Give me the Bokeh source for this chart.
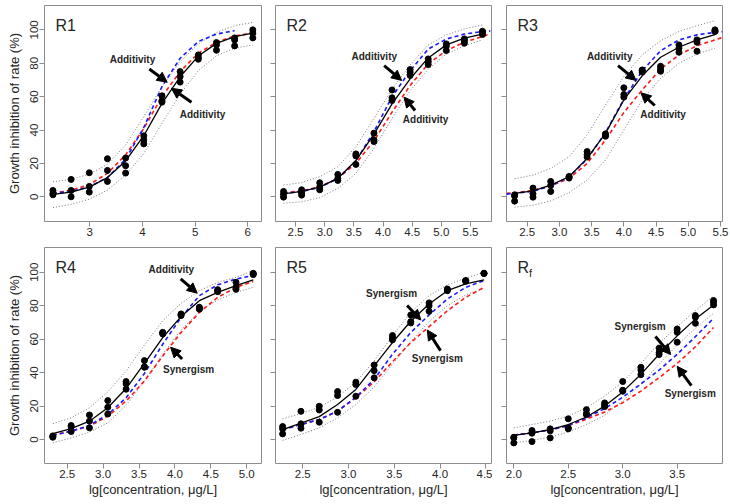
from bokeh.plotting import figure
from bokeh.layouts import column, row
from bokeh.models import (Range1d, Label, Arrow, NormalHead, FixedTicker,
                          CustomLabelingPolicy)
from bokeh.embed import file_html
from bokeh.resources import INLINE

# ---------------- data: lg concentration, observed inhibition (3 replicates),
# fitted curve, CA (red) and IA (blue) predictions, 95% bands -----------------
x1 = [2.30, 2.645, 2.99, 3.335, 3.68, 4.025, 4.37, 4.715, 5.06, 5.405, 5.75, 6.095]
obs1 = [[3.8, 2.0, 1.2], [10.4, 3.8, 0.0], [14.4, 6.2, 2.8], [22.8, 15.8, 9.2],
        [23.2, 18.6, 14.2], [36.5, 34.0, 31.7], [60.5, 57.5, 56.7], [75.0, 72.0, 68.7],
        [85.0, 83.5, 82.4], [92.4, 91.0, 87.8], [95.2, 94.0, 90.4], [100.0, 98.0, 95.2]]
fit1 = [1.4, 2.8, 5.8, 11.5, 21.5, 36.6, 56.0, 71.9, 84.3, 91.9, 96.0, 98.1]
xp1 = x1
ca1 = [2.2, 3.9, 7.3, 14.0, 25.1, 40.9, 60.0, 75.0, 86.0, 92.6, 96.3, 98.2]
ia1 = [2.0, 3.3, 6.0, 11.5, 22.5, 41.5, 66.0, 83.0, 93.0, 97.5, 99.5]
up1 = [9.0, 10.5, 13.5, 19.5, 31.0, 48.0, 66.0, 81.0, 91.5, 98.5, 102.5, 104.5]
lo1 = [-6.5, -4.5, -1.5, 4.0, 13.0, 26.0, 44.0, 61.5, 75.5, 84.5, 89.0, 91.0]

x2 = [2.295, 2.605, 2.915, 3.225, 3.535, 3.845, 4.155, 4.465, 4.775, 5.085, 5.395, 5.705]
obs2 = [[3.2, 1.5, -0.2], [4.2, 2.2, 1.0], [8.4, 5.8, 4.2], [13.4, 11.0, 9.8],
        [25.7, 24.5, 19.4], [38.1, 34.1, 33.1], [64.0, 59.3, 57.7], [76.2, 74.7, 72.7],
        [82.6, 81.0, 79.2], [91.6, 90.2, 87.6], [94.6, 93.6, 92.0], [99.2, 98.2, 97.2]]
fit2 = [1.8, 3.2, 5.8, 11.0, 21.7, 37.5, 55.7, 70.7, 83.2, 91.0, 95.0, 97.5]
xp2 = [2.295, 2.605, 2.915, 3.225, 3.535, 3.845, 4.155, 4.465, 4.775, 5.085, 5.395, 5.705, 5.84]
ca2 = [2.5, 3.5, 6.0, 11.0, 20.0, 33.5, 50.7, 66.7, 79.6, 87.6, 92.6, 96.0, 97.6]
ia2 = [2.0, 3.2, 5.6, 11.0, 21.5, 39.0, 60.0, 75.5, 88.5, 94.5, 97.5, 99.0, 99.3]
up2 = [7.0, 8.5, 12.0, 18.0, 30.0, 47.0, 64.5, 79.0, 91.0, 97.0, 100.5, 103.0]
lo2 = [-3.8, -3.0, -0.5, 5.0, 14.0, 29.0, 47.0, 63.5, 76.5, 85.5, 90.5, 94.0]

x3 = [2.305, 2.59, 2.865, 3.15, 3.43, 3.715, 4.0, 4.285, 4.57, 4.855, 5.135, 5.414]
obs3 = [[1.2, 0.5, -2.6], [5.2, 1.8, -0.2], [9.2, 6.8, 3.2], [12.2, 11.2, 11.8],
        [27.1, 25.3, 23.8], [37.7, 36.3, 37.0], [65.3, 61.3, 59.7], [76.0, 74.7, 75.5],
        [78.2, 76.6, 75.2], [91.0, 89.0, 86.6], [94.0, 92.6, 87.2], [100.0, 99.0, 99.4]]
fit3 = [2.0, 3.5, 7.0, 12.0, 23.0, 38.0, 58.0, 72.5, 83.6, 89.6, 94.0, 97.2]
xp3 = [2.18, 2.305, 2.59, 2.865, 3.15, 3.43, 3.715, 4.0, 4.285, 4.57, 4.855, 5.135, 5.414, 5.53]
ca3 = [2.1, 2.4, 3.8, 6.5, 11.0, 20.0, 34.0, 50.5, 64.0, 76.5, 85.0, 90.5, 94.0, 95.4]
ia3 = [1.6, 2.0, 3.3, 6.5, 12.0, 22.5, 38.5, 58.5, 75.5, 87.5, 94.0, 97.0, 98.5, 98.9]
up3 = [10.8, 13.0, 17.0, 24.0, 37.0, 55.0, 72.0, 85.0, 93.5, 99.0, 102.5, 105.5]
lo3 = [-6.2, -5.0, -2.5, 2.5, 10.0, 22.0, 40.0, 58.0, 71.0, 80.0, 85.5, 89.0]

x4 = [2.30, 2.555, 2.81, 3.065, 3.32, 3.575, 3.83, 4.085, 4.34, 4.595, 4.85, 5.09]
obs4 = [[2.2, 1.4, 1.8], [8.4, 7.6, 4.8], [14.7, 11.0, 7.0], [23.3, 19.3, 15.3],
        [34.7, 33.3, 30.1], [47.2, 43.2, 43.5], [64.1, 63.1, 63.6], [75.1, 74.1, 74.6],
        [79.1, 77.9, 78.5], [89.6, 88.4, 89.0], [94.0, 91.0, 89.8], [99.4, 98.6, 99.0]]
fit4 = [3.5, 6.5, 11.0, 19.0, 30.5, 45.5, 61.0, 73.5, 83.0, 88.0, 92.0, 95.5]
xp4 = x4
ca4 = [2.7, 5.0, 8.0, 14.0, 23.0, 35.0, 50.0, 64.0, 76.0, 85.0, 91.0, 94.5]
ia4 = [2.5, 5.0, 8.5, 15.0, 25.0, 39.5, 57.0, 73.0, 86.0, 92.5, 96.0, 98.0]
up4 = [9.5, 13.0, 19.0, 28.5, 41.0, 56.5, 71.0, 81.5, 89.0, 94.0, 97.0, 101.0]
lo4 = [-2.0, 1.0, 4.5, 10.0, 20.5, 35.0, 51.0, 65.5, 76.5, 83.5, 88.0, 91.0]

x5 = [2.28, 2.48, 2.68, 2.88, 3.08, 3.28, 3.48, 3.68, 3.88, 4.08, 4.28, 4.48]
obs5 = [[7.8, 6.4, 3.4], [16.9, 9.4, 6.8], [19.9, 17.7, 10.4], [28.7, 26.3, 16.3],
        [34.3, 32.9, 25.9], [44.6, 41.2, 36.9], [62.2, 59.6, 60.8], [74.5, 69.7, 70.5],
        [81.7, 76.7, 80.0], [90.0, 89.0, 89.5], [95.0, 95.0, 94.6], [99.4, 99.4, 99.2]]
fit5 = [6.0, 9.8, 13.7, 21.0, 30.0, 44.0, 58.0, 70.7, 81.0, 89.0, 93.0, 95.5]
xp5 = x5
ca5 = [6.0, 9.0, 12.0, 17.0, 25.0, 34.5, 46.5, 58.0, 67.5, 77.0, 85.0, 91.0]
ia5 = [6.0, 9.0, 12.0, 17.0, 25.3, 36.0, 51.0, 64.0, 74.5, 84.0, 91.0, 95.0]
up5 = [12.4, 15.5, 19.3, 25.5, 34.3, 47.0, 62.0, 76.0, 86.0, 92.5, 96.5, 100.0]
lo5 = [-0.5, 3.0, 7.0, 13.0, 21.0, 31.5, 45.0, 58.5, 70.5, 80.0, 86.5, 90.0]

x6 = [2.0, 2.167, 2.334, 2.5, 2.667, 2.834, 3.0, 3.167, 3.334, 3.5, 3.667, 3.834]
obs6 = [[1.4, -2.0, 1.0], [5.4, 3.8, -1.2], [6.4, 5.2, 1.0], [12.4, 6.4, 7.0],
        [17.9, 14.9, 15.5], [21.9, 20.7, 19.7], [34.7, 28.9, 29.5], [43.2, 41.6, 38.8],
        [54.6, 50.8, 52.0], [66.1, 64.1, 58.2], [74.1, 73.1, 69.5], [83.1, 82.1, 80.5]]
fit6 = [2.5, 4.0, 6.0, 9.0, 13.5, 20.0, 28.5, 39.0, 51.0, 62.0, 72.0, 80.5]
xp6 = x6
ca6 = [2.7, 4.0, 5.8, 8.3, 12.2, 16.5, 22.0, 29.0, 37.0, 45.5, 55.5, 67.0]
ia6 = [2.7, 4.0, 5.8, 8.5, 13.0, 18.5, 25.3, 33.3, 41.5, 51.0, 61.5, 72.5]
up6 = [7.0, 9.0, 11.0, 14.0, 19.0, 26.0, 34.5, 45.5, 57.5, 67.5, 77.0, 86.0]
lo6 = [-2.0, -0.5, 1.5, 4.5, 9.0, 14.5, 23.0, 33.0, 45.0, 56.5, 66.5, 75.5]

# tick positions and their labels
xt1 = [3, 4, 5, 6]
xl1 = ["3", "4", "5", "6"]
xt23 = [2.5, 3.0, 3.5, 4.0, 4.5, 5.0, 5.5]
xl23 = ["2.5", "3.0", "3.5", "4.0", "4.5", "5.0", "5.5"]
xt4 = [2.5, 3.0, 3.5, 4.0, 4.5, 5.0]
xl4 = ["2.5", "3.0", "3.5", "4.0", "4.5", "5.0"]
xt5 = [2.5, 3.0, 3.5, 4.0, 4.5]
xl5 = ["2.5", "3.0", "3.5", "4.0", "4.5"]
xt6 = [2.0, 2.5, 3.0, 3.5]
xl6 = ["2.0", "2.5", "3.0", "3.5"]
yt = [0, 20, 40, 60, 80, 100]
yl = ["0", "20", "40", "60", "80", "100"]

# ---------------- styling / layout ------------------------------------------
FONT = "Liberation Sans"
FRAME = "#8c8c8c"
TEXT = "#262626"
RED = "#ff1a1a"
BLUE = "#1a1aff"
GRAY = "#7a7a7a"

panels = [
    dict(name="R1", sub="", x=x1, obs=obs1, fit=fit1, xp=xp1, ca=ca1, ia=ia1, up=up1, lo=lo1,
         xr=(2.14, 6.26), ticks=xt1, labels=xl1,
         notes=[("Additivity", 3.81, 82.0, 4.13, 76.6, 4.47, 68.6),
                ("Additivity", 5.14, 49.1, 4.93, 56.6, 4.55, 65.0)]),
    dict(name="R2", sub="", x=x2, obs=obs2, fit=fit2, xp=xp2, ca=ca2, ia=ia2, up=up2, lo=lo2,
         xr=(2.157, 5.86), ticks=xt23, labels=xl23,
         notes=[("Additivity", 3.85, 84.0, 4.02, 78.6, 4.32, 69.7),
                ("Additivity", 4.73, 46.3, 4.55, 51.7, 4.36, 59.7)]),
    dict(name="R3", sub="", x=x3, obs=obs3, fit=fit3, xp=xp3, ca=ca3, ia=ia3, up=up3, lo=lo3,
         xr=(2.179, 5.531), ticks=xt23, labels=xl23,
         notes=[("Additivity", 3.78, 84.2, 3.91, 78.6, 4.19, 69.7),
                ("Additivity", 4.61, 49.1, 4.48, 54.7, 4.265, 62.3)]),
    dict(name="R4", sub="", x=x4, obs=obs4, fit=fit4, xp=xp4, ca=ca4, ia=ia4, up=up4, lo=lo4,
         xr=(2.184, 5.205), ticks=xt4, labels=xl4,
         notes=[("Additivity", 3.95, 101.6, 4.08, 96.0, 4.31, 87.5),
                ("Synergism", 4.19, 41.8, 4.10, 48.2, 3.94, 55.2)]),
    dict(name="R5", sub="", x=x5, obs=obs5, fit=fit5, xp=xp5, ca=ca5, ia=ia5, up=up5, lo=lo5,
         xr=(2.202, 4.562), ticks=xt5, labels=xl5,
         notes=[("Synergism", 3.47, 87.5, 3.64, 80.1, 3.79, 71.5),
                ("Synergism", 3.97, 48.2, 4.005, 53.2, 3.86, 65.5)]),
    dict(name="R", sub="f", x=x6, obs=obs6, fit=fit6, xp=xp6, ca=ca6, ia=ia6, up=up6, lo=lo6,
         xr=(1.933, 3.916), ticks=xt6, labels=xl6,
         notes=[("Synergism", 3.16, 67.5, 3.30, 61.6, 3.44, 50.8),
                ("Synergism", 3.62, 27.3, 3.63, 32.3, 3.50, 43.8)]),
]

COL_BORDERS = [(44, 1), (13, 1), (14, 8)]     # (left, right) border per column
FRAME_W = [217, 216, 216]
ROW_BORDERS = [(5, 25), (1, 41)]              # (top, bottom) border per row
FRAME_H = 216
Y_RANGES = [(-14.8, 114.6), (-14.3, 114.8)]


def make_panel(P, r, c):
    bl, br = COL_BORDERS[c]
    bt, bb = ROW_BORDERS[r]
    p = figure(width=bl + FRAME_W[c] + br, height=bt + FRAME_H + bb,
               x_range=Range1d(*P["xr"]), y_range=Range1d(*Y_RANGES[r]),
               output_backend="svg", toolbar_location=None,
               min_border_left=bl, min_border_right=br,
               min_border_top=bt, min_border_bottom=bb)
    p.grid.visible = False
    p.outline_line_color = FRAME
    p.outline_line_width = 1
    p.background_fill_color = "white"
    p.border_fill_color = "white"

    x = P["x"]
    xp = P["xp"]
    # prediction bands
    p.line(x, P["up"], line_color=GRAY, line_dash="1 2", line_width=1)
    p.line(x, P["lo"], line_color=GRAY, line_dash="1 2", line_width=1)
    # model predictions
    p.line(xp[:len(P["ca"])], P["ca"], line_color=RED, line_dash="4 3", line_width=1.6)
    p.line(xp[:len(P["ia"])], P["ia"], line_color=BLUE, line_dash="4 3", line_width=1.6)
    # fitted curve
    p.line(x, P["fit"], line_color="black", line_width=1.3)
    # observations
    px, py = [], []
    for xi, reps in zip(x, P["obs"]):
        for v in reps:
            px.append(xi)
            py.append(v)
    p.scatter(px, py, size=6, marker="circle", fill_color="black", line_color="black")

    # annotations
    for txt, tx, ty, ax0, ay0, ax1, ay1 in P["notes"]:
        p.add_layout(Label(x=tx, y=ty, text=txt, text_font=FONT, text_font_size="10px",
                           text_font_style="bold", text_color=TEXT,
                           text_align="center", text_baseline="middle"))
        p.add_layout(Arrow(x_start=ax0, y_start=ay0, x_end=ax1, y_end=ay1,
                           line_width=3, line_color="black",
                           end=NormalHead(size=10, fill_color="black",
                                          line_color="black", line_width=1)))

    # panel title
    x0 = P["xr"][0]
    y1 = Y_RANGES[r][1]
    p.add_layout(Label(x=x0, y=y1, x_offset=11, y_offset=-19.5, text=P["name"],
                       text_font=FONT, text_font_size="16px", text_color=TEXT,
                       text_baseline="middle"))
    if P["sub"]:
        p.add_layout(Label(x=x0, y=y1, x_offset=22.5, y_offset=-25, text=P["sub"],
                           text_font=FONT, text_font_size="11px", text_color=TEXT,
                           text_baseline="middle"))

    # axes
    for ax in (p.xaxis[0], p.yaxis[0]):
        ax.axis_line_color = None
        ax.major_tick_line_color = FRAME
        ax.major_tick_out = 5
        ax.major_tick_in = 0
        ax.minor_tick_line_color = None
        ax.major_label_text_font = FONT
        ax.major_label_text_font_size = "11.5px"
        ax.major_label_text_color = TEXT
        ax.axis_label_text_font = FONT
        ax.axis_label_text_font_size = "13px"
        ax.axis_label_text_font_style = "normal"
        ax.axis_label_text_color = TEXT

    xa = p.xaxis[0]
    xa.ticker = FixedTicker(ticks=P["ticks"])
    xa.major_label_overrides = dict(zip(P["ticks"], P["labels"]))
    xa.major_label_standoff = 1
    if r == 1:
        xa.axis_label = "lg[concentration, \u03bcg/L]"
        xa.axis_label_standoff = 1

    ya = p.yaxis[0]
    ya.ticker = FixedTicker(ticks=yt)
    if c == 0:
        ya.major_label_overrides = dict(zip(yt, yl))
        ya.major_label_orientation = "vertical"
        ya.major_label_standoff = 1
        ya.axis_label = "Growth inhibition of rate (%)"
        ya.axis_label_standoff = 6
    else:
        # inner panels: tick marks only, no tick labels
        ya.major_label_text_font_size = "1px"
        ya.major_label_standoff = 0
        ya.major_label_policy = CustomLabelingPolicy(code="return []")
    return p


figs = [make_panel(P, i // 3, i % 3) for i, P in enumerate(panels)]
layout = column(row(*figs[:3]), row(*figs[3:]))

open("out.html", "w").write(file_html(layout, INLINE))
